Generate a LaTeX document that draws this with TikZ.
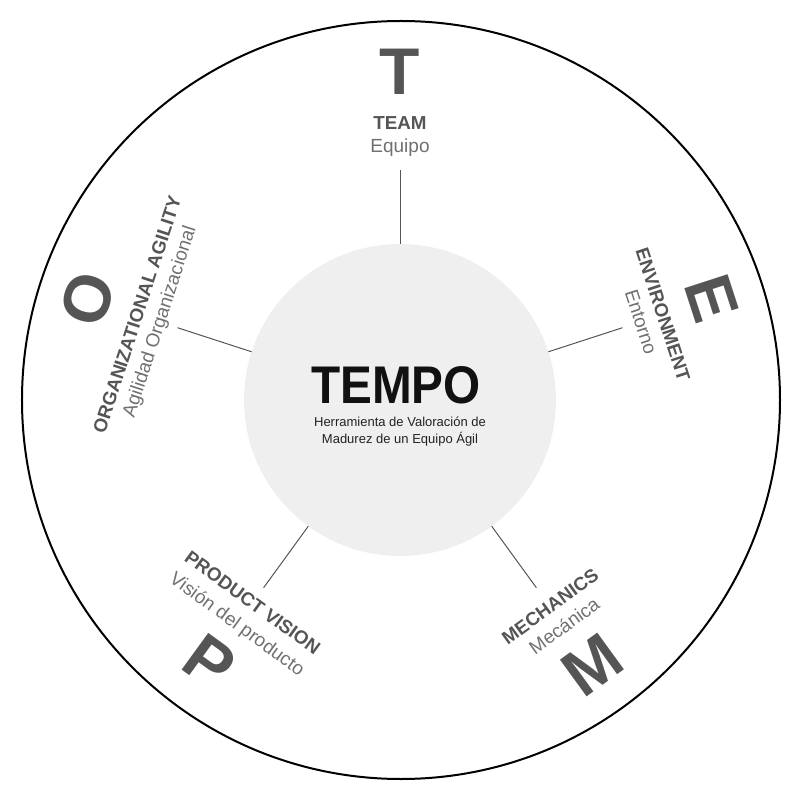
\documentclass[tikz,border=0pt]{standalone}
\usepackage{fontspec}
\setmainfont{Liberation Sans}
\usepackage{graphicx}
\definecolor{lettergray}{HTML}{555555}
\definecolor{labelgray}{HTML}{555555}
\definecolor{subgray}{HTML}{707070}
\definecolor{spokegray}{HTML}{555555}
\definecolor{innerfill}{HTML}{EFEFEF}
\definecolor{titleblack}{HTML}{111111}
\definecolor{subtitleblack}{HTML}{222222}
\begin{document}
\begin{tikzpicture}[x=1pt,y=1pt,
  bigletter/.style={font=\fontsize{66}{66}\selectfont\bfseries, text=lettergray, inner sep=0pt, outer sep=0pt, anchor=center},
  labelbold/.style={font=\fontsize{18.8}{18.8}\selectfont\bfseries, text=labelgray, inner sep=0pt, outer sep=0pt, anchor=base},
  labelsub/.style={font=\fontsize{19}{19}\selectfont, text=subgray, inner sep=0pt, outer sep=0pt, anchor=base},
  spoke/.style={draw=spokegray, line width=1pt},
  subtitle/.style={font=\fontsize{13}{13}\selectfont, text=subtitleblack, inner sep=0pt, outer sep=0pt, anchor=base}]
\useasboundingbox (-400,-400) rectangle (400,400);
% outer ring
\node[circle, draw=black, line width=2pt, minimum size=758pt, inner sep=0pt, outer sep=0pt] (outer) at (1,0) {};
% core
\node[circle, fill=innerfill, minimum size=312pt, inner sep=0pt, outer sep=0pt] (core) at (0,0) {};
\node[font=\fontsize{53}{53}\selectfont\bfseries, text=titleblack, inner sep=0pt, anchor=base] (tempo) at (-4,-3) {\scalebox{0.9}[1]{TEMPO}};
\node[subtitle] (sub1) at (0,-26) {Herramienta de Valoración de};
\node[subtitle] (sub2) at (0,-43) {Madurez de un Equipo Ágil};
% spoke tips
\coordinate (tipT) at (90:230);
\coordinate (tipE) at (18:234);
\coordinate (tipM) at (-54:232);
\coordinate (tipP) at (-126:232);
\coordinate (tipO) at (162:234);
\draw[spoke] (core.90) -- (tipT);
\draw[spoke] (core.18) -- (tipE);
\draw[spoke] (core.-54) -- (tipM);
\draw[spoke] (core.-126) -- (tipP);
\draw[spoke] (core.162) -- (tipO);
% T
\node[bigletter] (letT) at (90:328) {T};
\node[labelbold] (teamEN) at (90:270) {TEAM};
\node[labelsub] (teamES) at (90:247) {Equipo};
% E
\node[bigletter, rotate=-72] (letE) at (18:328) {E};
\node[labelbold, rotate=-72] (envEN) at (18:270) {ENVIRONMENT};
\node[labelsub, rotate=-72] (envES) at (18:247) {Entorno};
% O
\node[bigletter, rotate=72] (letO) at (162:328) {O};
\node[labelbold, rotate=72] (orgEN) at (162:270) {ORGANIZATIONAL AGILITY};
\node[labelsub, rotate=72] (orgES) at (162:247) {Agilidad Organizacional};
% M
\node[bigletter, rotate=36] (letM) at (-54:327) {M};
\node[labelbold, rotate=36] (mechEN) at (-54:262) {MECHANICS};
\node[labelsub, rotate=36] (mechES) at (-54:286) {Mecánica};
% P
\node[bigletter, rotate=-36] (letP) at (-126:324) {P};
\node[labelbold, rotate=-36] (prodEN) at (-126:257) {PRODUCT VISION};
\node[labelsub, rotate=-36] (prodES) at (-126:283) {Visión del producto};
\end{tikzpicture}
\end{document}
